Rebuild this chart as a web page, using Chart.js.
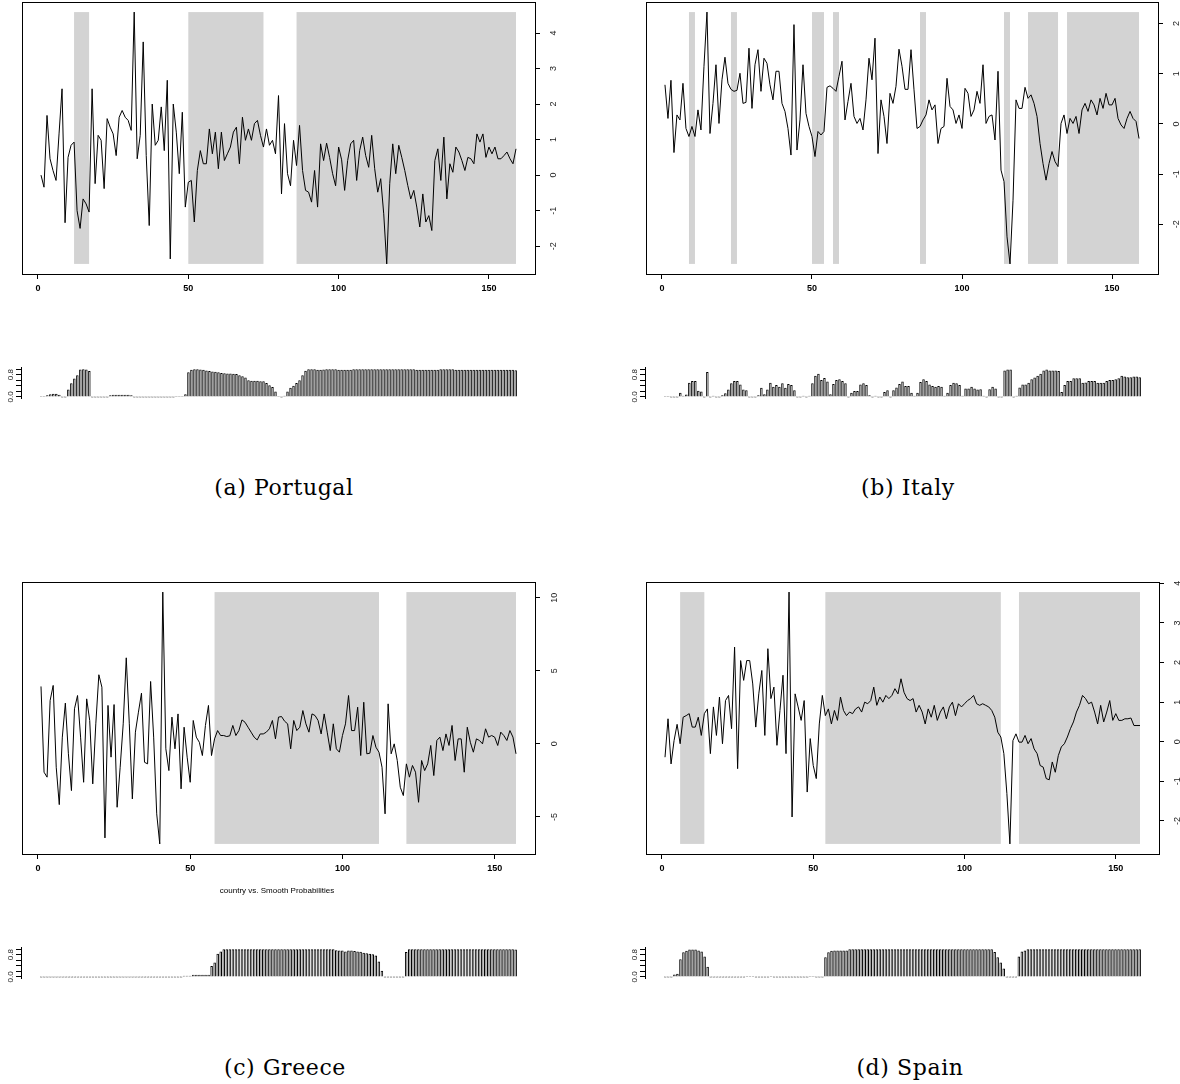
<!DOCTYPE html>
<html lang="en">
  <head>
    <meta charset="UTF-8" />
    <title>country vs. Smooth Probabilities</title>
    <script src="https://cdn.jsdelivr.net/npm/chart.js"></script>
    <style>
      body {
        margin: 0;
        background: #fff;
        width: 1180px;
        height: 1084px;
        position: relative;
        overflow: hidden;
      }
      canvas {
        position: absolute;
      }
      .cap {
        position: absolute;
        width: 300px;
        text-align: center;
        font-family: "DejaVu Serif", serif;
        font-size: 22px;
        letter-spacing: 0.6px;
        color: #000;
        line-height: 24px;
      }
      .note {
        position: absolute;
        width: 300px;
        text-align: center;
        font-family: "Liberation Sans", Arial, sans-serif;
        font-size: 8px;
        color: #000;
      }
    </style>
  </head>

  <body>
    <canvas id="ptLine" style="left: 0; top: 0" width="580" height="310"></canvas>
    <canvas id="itLine" style="left: 624px; top: 0" width="556" height="310"></canvas>
    <canvas id="ptProb" style="left: 0; top: 355px" width="545" height="50"></canvas>
    <canvas id="itProb" style="left: 624px; top: 355px" width="556" height="50"></canvas>
    <div class="cap" style="left: 134px; top: 476px">(a) Portugal</div>
    <div class="cap" style="left: 758px; top: 476px">(b) Italy</div>

    <canvas id="grLine" style="left: 0; top: 578px" width="580" height="310"></canvas>
    <canvas id="esLine" style="left: 624px; top: 578px" width="556" height="310"></canvas>
    <div class="note" style="left: 127px; top: 886px">country vs. Smooth Probabilities</div>
    <canvas id="grProb" style="left: 0; top: 935px" width="545" height="50"></canvas>
    <canvas id="esProb" style="left: 624px; top: 935px" width="556" height="50"></canvas>
    <div class="cap" style="left: 135px; top: 1056px">(c) Greece</div>
    <div class="cap" style="left: 760px; top: 1056px">(d) Spain</div>

    <script>
      const xTicks = [0, 50, 100, 150];
      const probTicks = [0, 0.2, 0.4, 0.6, 0.8, 1.0];
      const probLabels = [0, 0.8];

      // Portugal
      const ptValues = [
        0, -0.34, 1.68, 0.46, 0.13, -0.15, 1.16, 2.43, -1.34, 0.5,
        0.84, 0.93, -1.0, -1.5, -0.67, -0.81, -1.04, 2.43, -0.24, 1.12,
        0.98, -0.38, 1.59, 1.35, 1.16, 0.55, 1.63, 1.82, 1.63, 1.54,
        1.26, 4.59, 0.46, 1.12, 3.75, 0.55, -1.42, 2.0, 0.84, 0.98,
        1.92, 0.69, 2.67, -2.36, 2.0, 1.21, 0.04, 1.77, -0.9, -0.2,
        -0.15, -1.32, 0.13, 0.69, 0.32, 0.32, 1.3, 0.6, 1.21, 0.18,
        1.21, 0.41, 0.6, 0.79, 1.21, 1.35, 0.32, 1.63, 0.98, 1.3,
        0.98, 1.45, 1.54, 1.12, 0.79, 1.3, 0.84, 0.98, 0.6, 2.24,
        -0.53, 1.45, 0.04, -0.3, 0.98, 0.27, 1.4, 0.13, -0.43, -0.48,
        -0.76, 0.13, -0.9, 0.88, 0.41, 0.9, 0.5, 0.04, -0.3, 0.79,
        0.43, -0.43, 0.41, 0.88, 0.98, -0.15, 0.69, 1.07, 0.55, 0.22,
        1.12, 0.18, -0.48, -0.1, -1.09, -2.5, -0.24, 0.88, 0.04, 0.84,
        0.5, 0.13, -0.29, -0.67, -0.43, -0.9, -1.46, -0.53, -1.32, -1.14,
        -1.56, 0.41, 0.74, -0.15, 1.07, -0.67, 0.32, 0.08, 0.79, 0.65,
        0.41, 0.13, 0.5, 0.46, 0.32, 1.16, 0.93, 1.16, 0.5, 0.79,
        0.6, 0.79, 0.46, 0.46, 0.55, 0.65, 0.46, 0.32, 0.74,
      ];
      const ptProbs = [
        0.02, 0.02, 0.06, 0.1, 0.12, 0.12, 0.08, 0, 0, 0.27,
        0.49, 0.66, 0.78, 0.98, 0.99, 0.98, 0.93, 0, 0, 0,
        0, 0, 0, 0.06, 0.08, 0.08, 0.08, 0.08, 0.08, 0.08,
        0.06, 0, 0, 0, 0, 0, 0, 0, 0, 0,
        0, 0, 0, 0, 0, 0.03, 0.03, 0.03, 0.1, 0.88,
        0.97, 0.99, 0.99, 0.98, 0.97, 0.95, 0.93, 0.91, 0.9, 0.88,
        0.86, 0.85, 0.84, 0.84, 0.83, 0.82, 0.78, 0.74, 0.7, 0.6,
        0.58, 0.58, 0.58, 0.56, 0.56, 0.5, 0.42, 0.36, 0.2, 0.02,
        0, 0.04, 0.2, 0.33, 0.4, 0.5, 0.6, 0.78, 0.94, 0.99,
        0.99, 0.99, 0.97, 0.97, 0.98, 0.99, 0.99, 0.99, 0.99, 0.97,
        0.97, 0.97, 0.97, 0.97, 0.99, 0.99, 0.99, 0.99, 0.99, 0.99,
        0.99, 0.99, 0.99, 0.99, 0.99, 0.99, 0.99, 0.99, 0.99, 0.99,
        0.99, 0.99, 0.99, 0.99, 0.99, 0.97, 0.97, 0.97, 0.97, 0.97,
        0.97, 0.97, 0.97, 0.99, 0.99, 0.99, 0.99, 0.99, 0.97, 0.97,
        0.97, 0.97, 0.97, 0.97, 0.97, 0.97, 0.97, 0.97, 0.97, 0.97,
        0.97, 0.97, 0.97, 0.97, 0.97, 0.97, 0.97, 0.97, 0.96,
      ];
      const ptRegimes = [[12, 17], [50, 75], [86, 159]];
      const ptYTicks = [-2, -1, 0, 1, 2, 3, 4];

      // Italy
      const itValues = [
        0.78, 0.11, 0.87, -0.57, 0.18, 0.08, 0.81, -0.09, -0.25, -0.05,
        -0.25, 0.28, -0.12, 1.15, 2.23, -0.19, 0.41, 1.18, 0.01, 0.88,
        1.33, 0.81, 0.69, 0.65, 0.67, 1.01, 0.41, 0.43, 1.51, 0.31,
        1.18, 1.48, 0.65, 1.31, 1.21, 0.78, 0.48, 1.05, 1.05, 0.41,
        0.25, -0.09, -0.62, 1.98, -0.52, 0.08, 1.18, 0.21, -0.05, -0.25,
        -0.65, -0.15, -0.22, -0.15, 0.73, 0.76, 0.71, 0.65, 0.95, 1.25,
        0.08, 0.45, 0.81, 0.15, 0.01, 0.11, -0.12, 0.48, 1.31, 0.88,
        1.71, -0.59, 0.48, 0.15, -0.39, 0.61, 0.41, 0.75, 1.49, 1.15,
        0.69, 0.69, 1.48, 0.68, -0.09, -0.05, 0.08, 0.18, 0.48, 0.28,
        0.38, -0.39, -0.09, -0.05, 0.91, 0.35, 0.28, 0.01, 0.18, -0.09,
        0.71, 0.61, 0.15, 0.28, 0.65, 0.41, 1.18, 0.01, 0.15, 0.18,
        -0.32, 1.05, -0.92, -1.15, -2.25, -2.79, -1.52, 0.48, 0.31, 0.31,
        0.73, 0.51, 0.58, 0.41, 0.15, -0.39, -0.79, -1.12, -0.79, -0.55,
        -0.75, -0.85, 0.01, 0.18, -0.19, 0.11, 0.01, 0.15, -0.19, 0.28,
        0.41, 0.25, 0.48, 0.38, 0.18, 0.51, 0.31, 0.61, 0.38, 0.38,
        0.51, 0.11, -0.02, -0.09, 0.11, 0.25, 0.11, 0.05, -0.29,
      ];
      const itProbs = [
        0.02, 0.02, 0, 0, 0, 0.15, 0.04, 0.09, 0.51, 0.57,
        0.57, 0.22, 0.2, 0, 0.89, 0, 0.04, 0, 0, 0.06,
        0.13, 0.27, 0.49, 0.57, 0.57, 0.45, 0.27, 0.24, 0, 0,
        0, 0.06, 0.33, 0.1, 0.27, 0.51, 0.37, 0.43, 0.37, 0.49,
        0.33, 0.46, 0.43, 0.24, 0, 0, 0.04, 0, 0.04, 0.49,
        0.76, 0.83, 0.61, 0.68, 0.55, 0.1, 0.46, 0.61, 0.63, 0.57,
        0.49, 0, 0.15, 0.21, 0.21, 0.45, 0.49, 0.43, 0.06, 0,
        0.04, 0, 0, 0.18, 0.24, 0, 0.24, 0.34, 0.46, 0.55,
        0.39, 0.39, 0.15, 0.04, 0.15, 0.54, 0.63, 0.57, 0.45, 0.39,
        0.37, 0.39, 0.37, 0.04, 0.15, 0.43, 0.51, 0.49, 0.43, 0.04,
        0.3, 0.3, 0.37, 0.3, 0.27, 0.28, 0.04, 0, 0.28, 0.37,
        0.3, 0, 0, 0.95, 0.98, 0.98, 0, 0.04, 0.34, 0.45,
        0.45, 0.51, 0.63, 0.7, 0.76, 0.83, 0.95, 0.98, 0.95, 0.95,
        0.95, 0.93, 0.18, 0.43, 0.57, 0.57, 0.67, 0.67, 0.67, 0.51,
        0.52, 0.57, 0.57, 0.57, 0.51, 0.51, 0.51, 0.57, 0.61, 0.61,
        0.63, 0.67, 0.76, 0.73, 0.71, 0.71, 0.73, 0.73, 0.71,
      ];
      const itRegimes = [[9, 11], [23, 25], [50, 54], [57, 59], [86, 88], [114, 116], [122, 132], [135, 159]];
      const itYTicks = [-2, -1, 0, 1, 2];

      // Greece
      const grValues = [
        3.93, -1.94, -2.28, 2.97, 4.0, -1.6, -4.16, 0.46, 2.79, -0.68,
        -3.2, 2.4, 3.31, 0.46, -2.63, 3.08, 1.6, -2.74, 1.37, 4.73,
        3.88, -6.44, 2.63, -0.91, 2.69, -4.34, -1.6, 1.37, 5.89, 1.37,
        -3.77, 0.8, 2.17, 3.47, -1.26, -1.37, 4.27, 0.46, -4.79, -6.85,
        10.39, -0.34, -1.83, 1.83, -0.34, 2.05, -3.08, 1.14, -0.91, -2.63,
        1.6, 0.46, 0.11, -0.8, 1.26, 2.63, -0.8, 0.34, 0.91, 0.57,
        0.57, 0.5, 0.55, 1.26, 0.57, 0.91, 1.64, 1.48, 1.14, 0.8,
        0.46, 0.27, 0.68, 0.68, 0.8, 1.03, 1.6, 0.34, 1.83, 1.87,
        1.55, 1.37, -0.34, 1.6, 0.91, 1.14, 2.28, 1.37, 0.8, 2.05,
        1.94, 1.6, 0.68, 2.05, 0.8, -0.46, 1.37, -0.34, -0.57, 0.57,
        1.37, 3.31, 0.91, 0.91, 2.51, -0.8, 2.85, -0.68, -0.64, 0.57,
        -0.23, -0.57, -1.6, -4.79, 2.74, -0.68, 0, -1.14, -2.97, -3.54,
        -1.37, -2.28, -1.48, -1.94, -4.0, -1.14, -1.83, -1.37, -0.11, -2.17,
        0.23, 0.46, -0.46, 0.68, -0.11, 1.26, -1.14, 0.34, 0.34, -1.94,
        1.14, 0.11, -0.57, 0.34, 0.23, 0, 1.03, 0.46, 0.57, 0.46,
        -0.11, 0.8, 0.57, 0.23, 0.91, 0.46, -0.68,
      ];
      const grProbs = [
        0, 0, 0, 0, 0, 0, 0, 0, 0, 0,
        0, 0, 0, 0, 0, 0, 0, 0, 0, 0,
        0, 0, 0, 0, 0, 0, 0, 0, 0, 0,
        0, 0, 0, 0, 0, 0, 0, 0, 0, 0,
        0, 0, 0, 0, 0, 0, 0, 0.04, 0.04, 0.04,
        0.08, 0.08, 0.08, 0.08, 0.08, 0.08, 0.39, 0.52, 0.83, 0.91,
        0.99, 0.99, 0.99, 0.99, 0.99, 0.99, 0.99, 0.99, 0.99, 0.99,
        0.99, 0.99, 0.99, 0.99, 0.99, 0.99, 0.99, 0.99, 0.99, 0.99,
        0.99, 0.99, 0.99, 0.99, 0.99, 0.99, 0.99, 0.99, 0.99, 0.99,
        0.99, 0.99, 0.99, 0.99, 0.99, 0.99, 0.99, 0.96, 0.95, 0.95,
        0.91, 0.95, 0.95, 0.93, 0.91, 0.9, 0.87, 0.85, 0.83, 0.81,
        0.77, 0.55, 0.22, 0, 0, 0, 0, 0, 0, 0,
        0.89, 0.99, 0.99, 0.99, 0.99, 0.99, 0.99, 0.99, 0.99, 0.99,
        0.99, 0.99, 0.99, 0.99, 0.99, 0.99, 0.99, 0.99, 0.99, 0.99,
        0.99, 0.99, 0.99, 0.99, 0.99, 0.99, 0.99, 0.99, 0.99, 0.99,
        0.99, 0.99, 0.99, 0.99, 0.99, 0.99, 0.98,
      ];
      const grRegimes = [[58, 112], [121, 157]];
      const grYTicks = [-5, 0, 5, 10];

      // Spain
      const esValues = [
        -0.39, 0.58, -0.56, 0.03, 0.44, -0.05, 0.62, 0.66, 0.71, 0.37,
        0.37, 0.62, 0.16, 0.71, 0.83, -0.3, 0.88, 0.16, 1.13, -0.05,
        1.04, 1.17, 0.33, 2.39, -0.68, 2.05, 1.55, 2.05, 2.05, 1.46,
        0.37, 1.21, 1.8, 0.16, 2.35, 1.09, 1.38, -0.09, 0.79, 1.68,
        -0.3, 3.78, -1.9, 1.21, 0.88, 0.54, 1.04, -1.27, 0.08, -0.6,
        -0.93, 0.45, 1.17, 0.66, 0.83, 0.45, 0.79, 0.54, 1.13, 0.79,
        0.66, 0.75, 0.71, 0.83, 0.88, 0.75, 1.0, 0.96, 1.04, 1.38,
        0.92, 1.13, 1.0, 1.17, 1.09, 1.17, 1.34, 1.21, 1.59, 1.25,
        1.09, 1.04, 1.09, 0.75, 0.92, 0.75, 0.45, 0.83, 0.62, 0.92,
        0.54, 0.75, 0.88, 0.58, 0.88, 1.0, 0.66, 0.96, 0.88, 0.96,
        1.04, 1.09, 1.17, 0.96, 0.92, 0.96, 0.92, 0.88, 0.79, 0.62,
        0.24, 0.12, -0.3, -1.31, -2.58, 0.03, 0.2, -0.01, -0.01, 0.16,
        -0.05, 0.08, -0.18, -0.3, -0.6, -0.64, -0.93, -0.96, -0.51, -0.77,
        -0.35, -0.13, -0.05, 0.12, 0.33, 0.5, 0.75, 0.92, 1.17, 1.09,
        0.96, 1.0, 0.75, 0.45, 0.92, 0.5, 0.75, 1.04, 0.54, 0.71,
        0.54, 0.54, 0.58, 0.58, 0.6, 0.41, 0.41, 0.41,
      ];
      const esProbs = [
        0, 0, 0, 0.09, 0.12, 0.63, 0.88, 0.94, 0.98, 0.98,
        0.98, 0.95, 0.91, 0.73, 0.37, 0, 0, 0, 0, 0,
        0, 0, 0, 0, 0, 0, 0, 0.03, 0.03, 0.03,
        0, 0, 0, 0, 0, 0.03, 0, 0, 0, 0,
        0, 0, 0, 0, 0, 0, 0, 0, 0.03, 0.03,
        0, 0, 0, 0.71, 0.88, 0.94, 0.95, 0.95, 0.95, 0.95,
        0.95, 0.99, 0.99, 0.99, 0.99, 0.99, 0.99, 0.99, 0.99, 0.99,
        0.99, 0.99, 0.99, 0.99, 0.99, 0.99, 0.99, 0.99, 0.99, 0.99,
        0.99, 0.99, 0.99, 0.99, 0.99, 0.99, 0.99, 0.99, 0.99, 0.99,
        0.99, 0.99, 0.99, 0.99, 0.99, 0.99, 0.99, 0.99, 0.99, 0.99,
        0.99, 0.99, 0.99, 0.99, 0.99, 0.99, 0.99, 0.99, 0.99, 0.89,
        0.71, 0.52, 0.3, 0, 0, 0, 0, 0.73, 0.91, 0.95,
        0.99, 0.99, 0.99, 0.99, 0.99, 0.99, 0.99, 0.99, 0.99, 0.99,
        0.99, 0.99, 0.99, 0.99, 0.99, 0.99, 0.99, 0.99, 0.99, 0.99,
        0.99, 0.99, 0.99, 0.99, 0.99, 0.99, 0.99, 0.99, 0.99, 0.99,
        0.99, 0.99, 0.99, 0.99, 0.99, 0.99, 0.99, 0.99,
      ];
      const esRegimes = [[6, 14], [54, 112], [118, 158]];
      const esYTicks = [-2, -1, 0, 1, 2, 3, 4];

      const fontFamily = "'Liberation Sans', Arial, sans-serif";

      // R pads an axis range by 4% on both sides
      function rPad(lo, hi) {
        const d = (hi - lo) * 0.04;
        return [lo - d, hi + d];
      }

      function lineChart(id, values, regimes, yTicks, box) {
        const canvas = document.getElementById(id);
        const lo = Math.min(...values);
        const hi = Math.max(...values);
        const [xMin, xMax] = rPad(1, values.length);
        const [yMin, yMax] = rPad(lo, hi);

        const shade = {
          id: "shade",
          beforeDatasetsDraw(chart) {
            const { ctx, scales } = chart;
            const top = scales.y.getPixelForValue(hi);
            const bottom = scales.y.getPixelForValue(lo);
            ctx.save();
            ctx.fillStyle = "#d3d3d3";
            regimes.forEach(([a, b]) => {
              const x1 = scales.x.getPixelForValue(a);
              const x2 = scales.x.getPixelForValue(b);
              ctx.fillRect(x1, top, x2 - x1, bottom - top);
            });
            ctx.restore();
          },
          afterDraw(chart) {
            const a = chart.chartArea;
            const ctx = chart.ctx;
            ctx.save();
            ctx.strokeStyle = "#000";
            ctx.lineWidth = 1;
            ctx.strokeRect(Math.round(a.left) + 0.5, Math.round(a.top) + 0.5, Math.round(a.right - a.left), Math.round(a.bottom - a.top));
            ctx.restore();
          },
        };

        return new Chart(canvas, {
          type: "line",
          data: {
            datasets: [
              {
                data: values.map((v, i) => ({ x: i + 1, y: v })),
                borderColor: "#000",
                borderWidth: 1,
                pointRadius: 0,
                tension: 0,
              },
            ],
          },
          options: {
            responsive: false,
            animation: false,
            events: [],
            layout: { padding: { left: box.left, top: box.top, right: 0, bottom: 0 } },
            plugins: { legend: { display: false }, tooltip: { enabled: false } },
            scales: {
              x: {
                type: "linear",
                min: xMin,
                max: xMax,
                afterBuildTicks: (s) => { s.ticks = xTicks.map((v) => ({ value: v })); },
                afterFit: (s) => {
                  s.height = canvas.height - box.bottom;
                  s.paddingLeft = 0;
                  s.paddingRight = 0;
                },
                grid: { drawOnChartArea: false, tickLength: 5, color: "#000" },
                border: { color: "#000" },
                ticks: { font: { family: fontFamily, size: 9, weight: "bold" }, color: "#000", padding: 4, maxRotation: 0, autoSkip: false },
              },
              y: {
                position: "right",
                min: yMin,
                max: yMax,
                afterBuildTicks: (s) => { s.ticks = yTicks.map((v) => ({ value: v })); },
                afterFit: (s) => {
                  s.width = canvas.width - box.right;
                  s.paddingTop = 0;
                  s.paddingBottom = 0;
                },
                grid: { drawOnChartArea: false, tickLength: 5, color: "#000" },
                border: { color: "#000" },
                ticks: {
                  font: { family: fontFamily, size: 9 },
                  color: "#222",
                  padding: 10,
                  minRotation: 90,
                  maxRotation: 90,
                  crossAlign: "center",
                  autoSkip: false,
                },
              },
            },
          },
          plugins: [shade],
        });
      }

      function probChart(id, probs, box) {
        const canvas = document.getElementById(id);
        const n = probs.length;
        // barplot: unit-wide bars with 0.2 spacing
        const [uLo, uHi] = rPad(0.2, 1.2 * n);
        return new Chart(canvas, {
          type: "bar",
          data: {
            datasets: [
              {
                data: probs.map((p, i) => ({ x: i + 1, y: p })),
                backgroundColor: "#bebebe",
                borderColor: "#000",
                borderWidth: 1,
                minBarLength: 1,
                barPercentage: 1 / 1.2,
                categoryPercentage: 1,
              },
            ],
          },
          options: {
            responsive: false,
            animation: false,
            events: [],
            layout: { padding: { left: 0, top: box.top, right: canvas.width - box.right, bottom: canvas.height - box.bottom } },
            plugins: { legend: { display: false }, tooltip: { enabled: false } },
            scales: {
              x: {
                type: "linear",
                display: false,
                offset: false,
                grid: { offset: false },
                min: (uLo + 0.5) / 1.2,
                max: (uHi + 0.5) / 1.2,
              },
              y: {
                position: "left",
                min: -0.04,
                max: 1.04,
                afterBuildTicks: (s) => { s.ticks = probTicks.map((v) => ({ value: v })); },
                afterFit: (s) => {
                  s.width = box.left;
                  s.paddingTop = 0;
                  s.paddingBottom = 0;
                },
                grid: { drawOnChartArea: false, tickLength: 5, color: "#000" },
                border: { color: "#000" },
                ticks: {
                  font: { family: fontFamily, size: 8 },
                  color: "#222",
                  padding: 0,
                  minRotation: 90,
                  maxRotation: 90,
                  crossAlign: "center",
                  autoSkip: false,
                  callback: (v) => (probLabels.includes(v) ? v.toFixed(1) : ""),
                },
              },
            },
          },
        });
      }

      lineChart("ptLine", ptValues, ptRegimes, ptYTicks, { left: 22, top: 2, right: 535, bottom: 274 });
      lineChart("itLine", itValues, itRegimes, itYTicks, { left: 22, top: 2, right: 534, bottom: 274 });
      lineChart("grLine", grValues, grRegimes, grYTicks, { left: 22, top: 4, right: 535, bottom: 276 });
      lineChart("esLine", esValues, esRegimes, esYTicks, { left: 22, top: 4, right: 535, bottom: 276 });

      probChart("ptProb", ptProbs, { left: 21, top: 12.9, right: 536, bottom: 43.1 });
      probChart("itProb", itProbs, { left: 21, top: 12.9, right: 536, bottom: 43.1 });
      probChart("grProb", grProbs, { left: 21, top: 12.9, right: 536, bottom: 43.1 });
      probChart("esProb", esProbs, { left: 21, top: 12.9, right: 536, bottom: 43.1 });
    </script>
  </body>
</html>
